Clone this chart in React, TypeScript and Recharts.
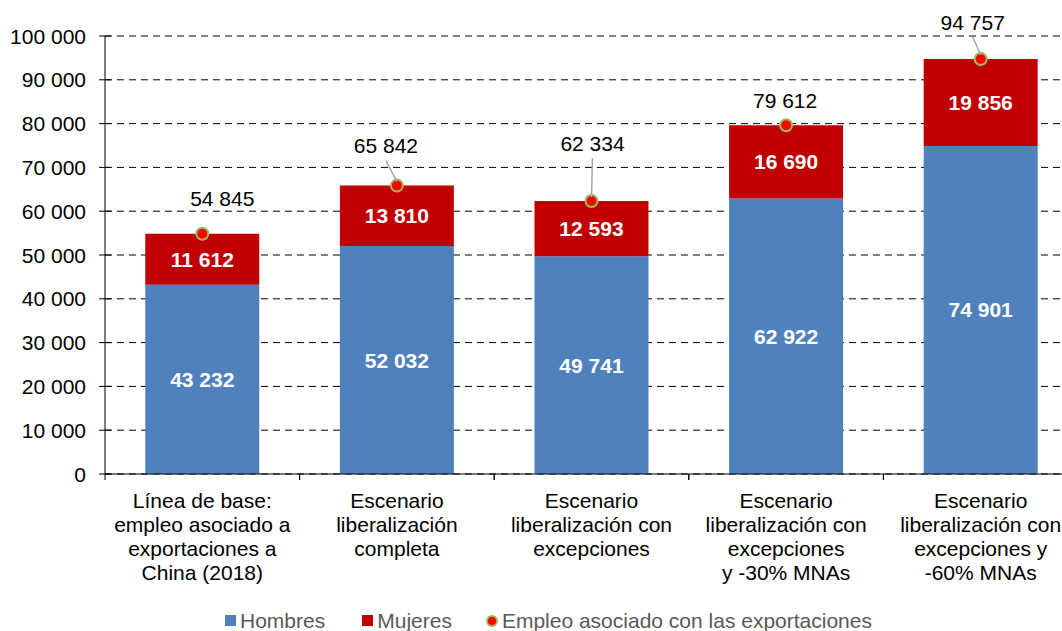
import {
  Bar,
  CartesianGrid,
  ComposedChart,
  LabelList,
  Legend,
  Line,
  XAxis,
  YAxis,
} from "recharts";

const categories = [
  "Línea de base:\nempleo asociado a\nexportaciones a\nChina (2018)",
  "Escenario\nliberalización\ncompleta",
  "Escenario\nliberalización con\nexcepciones",
  "Escenario\nliberalización con\nexcepciones\ny -30% MNAs",
  "Escenario\nliberalización con\nexcepciones y\n-60% MNAs",
];
const hombres = [43232, 52032, 49741, 62922, 74901];
const mujeres = [11612, 13810, 12593, 16690, 19856];
const totals = [54845, 65842, 62334, 79612, 94757];
const yTicks = [0, 10000, 20000, 30000, 40000, 50000, 60000, 70000, 80000, 90000, 100000];

const data = categories.map((name, i) => ({
  name,
  hombres: hombres[i],
  mujeres: mujeres[i],
  total: totals[i],
}));

// where each total label sits relative to its dot, and whether it gets a leader line
const totalLabelOffsets = [
  { dx: 20, dy: -35, leader: false },
  { dx: -11, dy: -40, leader: true },
  { dx: 1, dy: -58, leader: true },
  { dx: -1, dy: -25, leader: false },
  { dx: -8, dy: -37, leader: true },
];

const FONT = '"Liberation Sans", Arial, sans-serif';
const BLUE = "#4f81bd";
const RED = "#c00000";

const fmt = (v: unknown) => String(v).replace(/\B(?=(\d{3})+(?!\d))/g, " ");

function YTick(props: any) {
  const { x, y, payload } = props;
  const axisX = x + 19;
  return (
    <g>
      <line x1={axisX - 6} x2={axisX + 6} y1={y} y2={y} stroke="#000" strokeWidth={1} />
      <text x={x} y={y} dy="0.36em" textAnchor="end" fontSize={21} fontFamily={FONT} fill="#000">
        {fmt(payload.value)}
      </text>
    </g>
  );
}

function XTick(props: any) {
  const { x, y, payload } = props;
  const half = payload && payload.offset ? payload.offset : 97.25;
  const lines = String(payload.value).split("\n");
  return (
    <g>
      <line x1={x - half} x2={x - half} y1={y} y2={y + 6} stroke="#000" />
      <line x1={x + half} x2={x + half} y1={y} y2={y + 6} stroke="#000" />
      <text x={x} y={y + 34} textAnchor="middle" fontSize={21} fontFamily={FONT} fill="#000">
        {lines.map((l, i) => (
          <tspan key={i} x={x} dy={i === 0 ? 0 : 24}>
            {l}
          </tspan>
        ))}
      </text>
    </g>
  );
}

function TotalDot(props: any) {
  const { cx, cy, index } = props;
  if (cx == null || cy == null) return <g key={index} />;
  return <circle key={index} cx={cx} cy={cy} r={6} fill="#ff0000" stroke="#9bbb59" strokeWidth={2} />;
}

function TotalLabel(props: any) {
  const { x, y, value, index } = props;
  const o = totalLabelOffsets[index] || { dx: 0, dy: -30, leader: false };
  const lx = x + o.dx;
  const ly = y + o.dy;
  return (
    <g>
      {o.leader && (
        <line x1={lx} y1={ly + 15} x2={x} y2={y - 4} stroke="#a6a6a6" strokeWidth={1.5} />
      )}
      <text x={lx} y={ly} dy="0.36em" textAnchor="middle" fontSize={21} fontFamily={FONT} fill="#000">
        {fmt(value)}
      </text>
    </g>
  );
}

function LegendContent() {
  const text = { fontSize: 21, fontFamily: FONT, color: "#595959", lineHeight: "22px" };
  return (
    <div style={{ height: 26, paddingTop: 5, boxSizing: "border-box", display: "flex", alignItems: "center", paddingLeft: 225 }}>
      <span style={{ width: 11, height: 11, background: BLUE, display: "inline-block", marginRight: 4 }} />
      <span style={text}>Hombres</span>
      <span style={{ width: 11, height: 11, background: RED, display: "inline-block", marginLeft: 37, marginRight: 4 }} />
      <span style={text}>Mujeres</span>
      <span
        style={{
          width: 8,
          height: 8,
          borderRadius: "50%",
          background: "#ff0000",
          border: "2px solid #9bbb59",
          display: "inline-block",
          marginLeft: 34,
          marginRight: 4,
        }}
      />
      <span style={text}>Empleo asociado con las exportaciones</span>
    </div>
  );
}

export default function App() {
  return (
    <div style={{ position: "absolute", left: 0, top: 0, width: 1062, height: 631, overflow: "hidden", background: "#fff" }}>
      <ComposedChart
        width={1078}
        height={631}
        data={data}
        margin={{ top: 36, right: 0, bottom: 0, left: 0 }}
        barCategoryGap="20.7%"
      >
        <CartesianGrid vertical={false} stroke="#000" strokeDasharray="7 5" />
        <XAxis
          dataKey="name"
          interval={0}
          height={131}
          tickLine={false}
          tickSize={0}
          tickMargin={0}
          axisLine={{ stroke: "#000" }}
          tick={<XTick />}
        />
        <YAxis
          width={105}
          domain={[0, 100000]}
          ticks={yTicks}
          tickLine={false}
          tickSize={0}
          tickMargin={19}
          axisLine={{ stroke: "#000" }}
          tick={<YTick />}
        />
        <Legend verticalAlign="bottom" content={<LegendContent />} />
        <Bar dataKey="hombres" stackId="a" fill={BLUE} isAnimationActive={false}>
          <LabelList dataKey="hombres" position="center" fill="#fff" fontSize={21} fontWeight="bold" fontFamily={FONT} formatter={fmt} />
        </Bar>
        <Bar dataKey="mujeres" stackId="a" fill={RED} isAnimationActive={false}>
          <LabelList dataKey="mujeres" position="center" fill="#fff" fontSize={21} fontWeight="bold" fontFamily={FONT} formatter={fmt} />
        </Bar>
        <Line
          dataKey="total"
          stroke="none"
          dot={<TotalDot />}
          activeDot={false}
          label={<TotalLabel />}
          isAnimationActive={false}
          legendType="none"
        />
      </ComposedChart>
    </div>
  );
}
